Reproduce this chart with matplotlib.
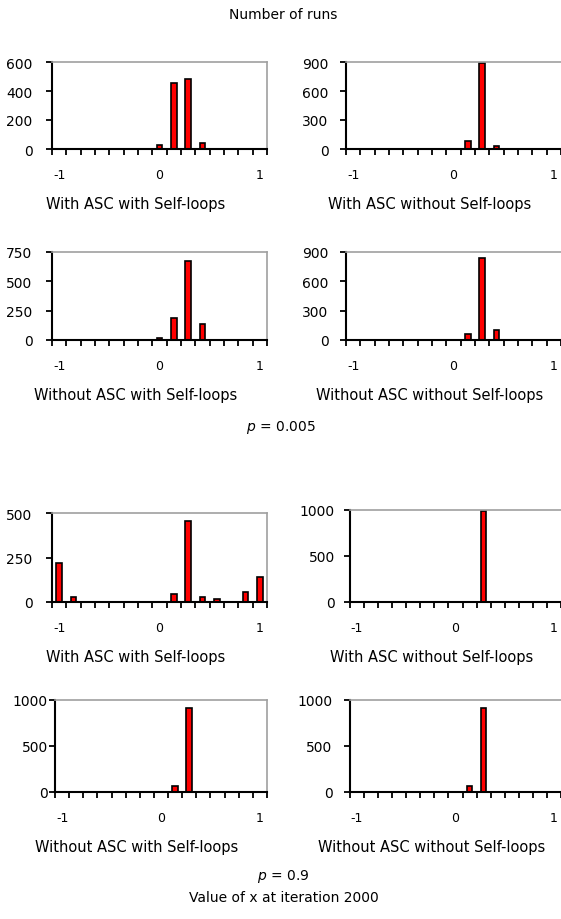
import matplotlib
matplotlib.use("Agg")
import matplotlib.pyplot as plt

# 15 bins of x value from -1 to 1, only the ends and the middle are labelled
bin_labels = ["-1", "", "", "", "", "", "", "0", "", "", "", "", "", "", "1"]

titles = ["With ASC with Self-loops", "With ASC without Self-loops",
          "Without ASC with Self-loops", "Without ASC without Self-loops"]

# p = 0.005
runs_a1 = [0, 0, 0, 0, 0, 0, 0, 27, 453, 481, 41, 0, 0, 0, 0]
runs_a2 = [0, 0, 0, 0, 0, 0, 0, 0, 79, 886, 34, 0, 0, 0, 0]
runs_a3 = [0, 0, 0, 0, 0, 0, 0, 17, 188, 670, 137, 0, 0, 0, 0]
runs_a4 = [0, 0, 0, 0, 0, 0, 0, 0, 58, 838, 99, 0, 0, 0, 0]

# p = 0.9
runs_b1 = [217, 28, 0, 0, 0, 0, 0, 0, 47, 455, 26, 17, 0, 56, 140]
runs_b2 = [0, 0, 0, 0, 0, 0, 0, 0, 0, 992, 0, 0, 0, 0, 0]
runs_b3 = [0, 0, 0, 0, 0, 0, 0, 0, 65, 913, 0, 0, 0, 0, 0]
runs_b4 = [0, 0, 0, 0, 0, 0, 0, 0, 65, 913, 0, 0, 0, 0, 0]

y_max = [600, 900, 750, 900, 500, 1000, 1000, 1000]
y_step = [200, 300, 250, 300, 250, 500, 500, 500]

W, H = 561, 920
fig = plt.figure(figsize=(W / 100, H / 100), dpi=100)
plt.rcParams['font.family'] = 'DejaVu Sans'

# pixel boxes: left, top, right, bottom
boxes = [
    (52, 63, 267, 150), (346, 63, 561, 150),
    (52, 253, 267, 341), (346, 253, 561, 341),
    (52, 514, 267, 603), (350, 511, 561, 603),
    (55, 701, 267, 793), (350, 701, 561, 793),
]
ypads = [10, 8.5, 10, 8.5, 10, 7, 1, 8.5]

all_runs = [runs_a1, runs_a2, runs_a3, runs_a4, runs_b1, runs_b2, runs_b3, runs_b4]
x = list(range(len(bin_labels)))

for i, runs in enumerate(all_runs):
    l, t, r, b = boxes[i]
    ax = fig.add_axes([l / W, 1 - b / H, (r - l) / W, (b - t) / H])
    ax.bar(x, runs, width=0.4, color='#ff0000', edgecolor='black', linewidth=1.2)
    ax.set_xlim(-0.5, len(bin_labels) - 0.5)
    ax.set_ylim(0, y_max[i])
    ax.set_yticks(range(0, y_max[i] + 1, y_step[i]))
    ax.set_xticks([0, 7, 14])
    ax.set_xticklabels([bin_labels[0], bin_labels[7], bin_labels[14]])
    ax.set_xticks([k - 0.5 for k in range(len(bin_labels) + 1)], minor=True)
    ax.tick_params(axis='x', which='major', length=0, pad=14, labelsize=9)
    ax.tick_params(axis='x', which='minor', length=4, width=1.3, direction='out')
    ax.tick_params(axis='y', length=4, width=1.3, direction='out', pad=ypads[i], labelsize=10)
    for s in ['left', 'bottom']:
        ax.spines[s].set_linewidth(1.5)
        ax.spines[s].set_color('black')
    ax.spines['top'].set_color('#a0a0a0')
    ax.spines['top'].set_linewidth(1.2)
    if i % 2 == 0:
        ax.spines['right'].set_color('#a0a0a0')
        ax.spines['right'].set_linewidth(1.2)
    else:
        ax.spines['right'].set_visible(False)
    # panel caption
    cx = (l + r) / 2 - 24
    fig.text(cx / W, 1 - (b + 55) / H, titles[i % 4], ha='center', va='center', fontsize=10.5)

fig.text(283 / W, 1 - 15 / H, "Number of runs", ha='center', va='center', fontsize=10)
fig.text(281 / W, 1 - 428 / H, "$p$ = 0.005", ha='center', va='center', fontsize=10)
fig.text(283 / W, 1 - 877 / H, "$p$ = 0.9", ha='center', va='center', fontsize=10)
fig.text(284 / W, 1 - 898 / H, "Value of x at iteration 2000", ha='center', va='center', fontsize=10)

fig.savefig("out.png", dpi=100)
